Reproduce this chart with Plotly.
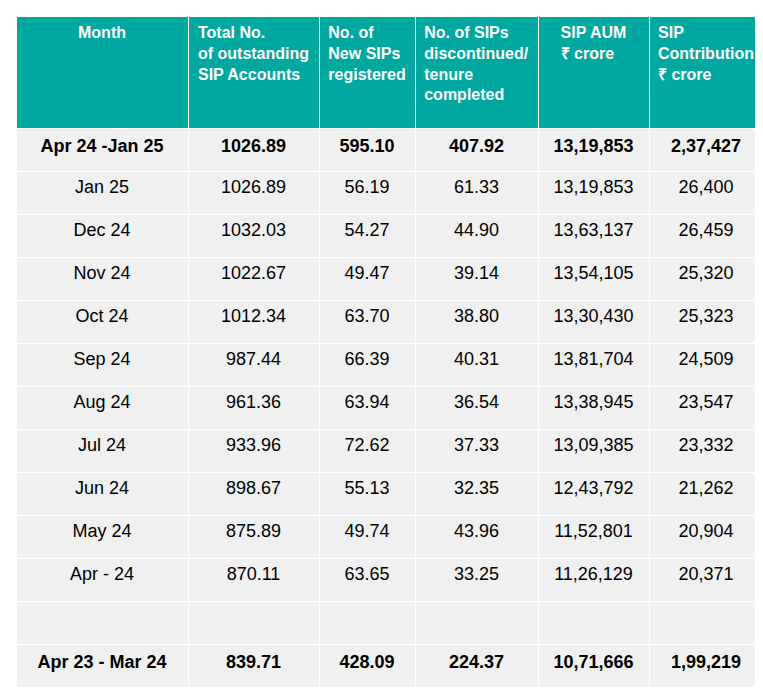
import plotly.graph_objects as go

months = ["Apr 24 -Jan 25", "Jan 25", "Dec 24", "Nov 24", "Oct 24", "Sep 24", "Aug 24",
          "Jul 24", "Jun 24", "May 24", "Apr - 24", "", "Apr 23 - Mar 24"]
total_accounts = ["1026.89", "1026.89", "1032.03", "1022.67", "1012.34", "987.44", "961.36",
                  "933.96", "898.67", "875.89", "870.11", "", "839.71"]
new_sips = ["595.10", "56.19", "54.27", "49.47", "63.70", "66.39", "63.94",
            "72.62", "55.13", "49.74", "63.65", "", "428.09"]
discontinued = ["407.92", "61.33", "44.90", "39.14", "38.80", "40.31", "36.54",
                "37.33", "32.35", "43.96", "33.25", "", "224.37"]
sip_aum = ["13,19,853", "13,19,853", "13,63,137", "13,54,105", "13,30,430", "13,81,704", "13,38,945",
           "13,09,385", "12,43,792", "11,52,801", "11,26,129", "", "10,71,666"]
sip_contribution = ["2,37,427", "26,400", "26,459", "25,320", "25,323", "24,509", "23,547",
                    "23,332", "21,262", "20,904", "20,371", "", "1,99,219"]
headers = [["Month"], ["Total No.", "of outstanding", "SIP Accounts"], ["No. of", "New SIPs", "registered"],
           ["No. of SIPs", "discontinued/", "tenure", "completed"], ["SIP AUM", "₹ crore"],
           ["SIP", "Contribution", "₹ crore"]]
bold_rows = [0, 12]

columns = [months, total_accounts, new_sips, discontinued, sip_aum, sip_contribution]
cells = [["<b>%s</b>" % v if i in bold_rows and v else v for i, v in enumerate(col)] for col in columns]

# pad header text so it sits roughly in the middle of the tall header row
pad = {1: 2, 2: 1, 3: 1, 4: 0}
pad_head = ["<br>" * pad[len(h)] + "<br>".join("<b>%s</b>" % s for s in h) for h in headers]

fig = go.Figure(go.Table(
    columnwidth=[172, 131, 96, 123, 111, 114],
    header=dict(values=pad_head, fill_color="#00A8A0", line=dict(color="white", width=1),
                font=dict(family="Liberation Sans", size=16, color="white"),
                align="center", height=112),
    cells=dict(values=cells, fill_color="#F0F0F0", line=dict(color="white", width=1),
               font=dict(family="Liberation Sans", size=18, color="black"),
               align="center", height=43),
    domain=dict(x=[8 / 763, 755 / 763], y=[0, 1]),
))
fig.update_layout(width=763, height=688, margin=dict(l=0, r=0, t=8, b=0),
                  paper_bgcolor="white")
fig.write_html("out.html")
